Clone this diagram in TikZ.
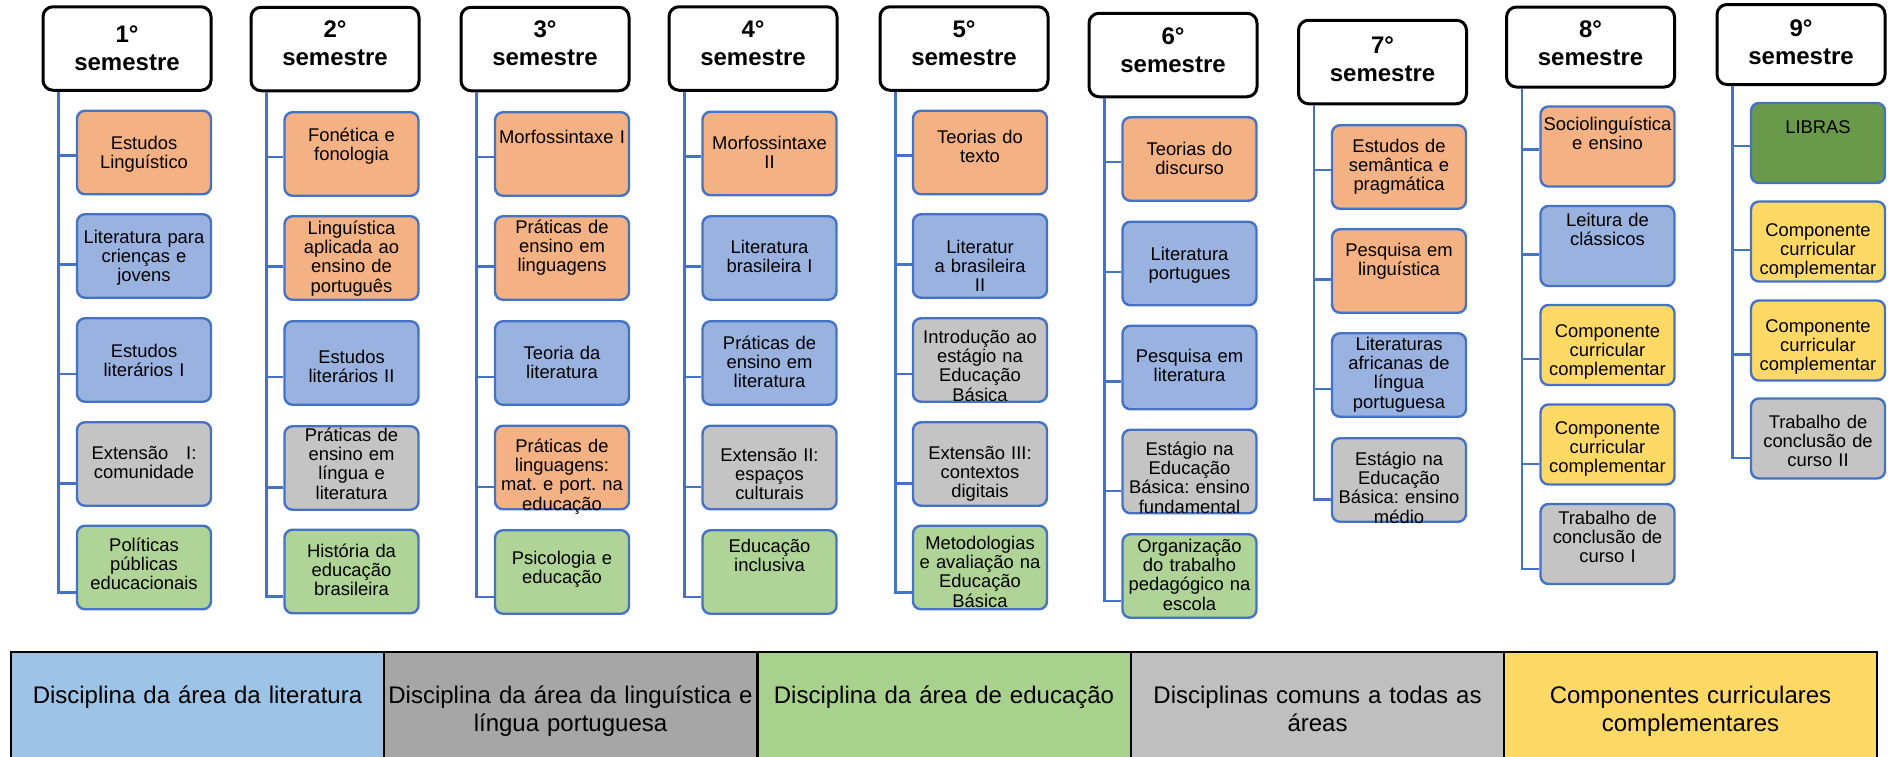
\documentclass[tikz,border=0pt]{standalone}
\usepackage{fontspec}
\setmainfont{Liberation Sans}
\usepackage{xcolor}
\usepackage{tikz}
\frenchspacing

\definecolor{linbox}{HTML}{F4B183}
\definecolor{litbox}{HTML}{9AB2E0}
\definecolor{combox}{HTML}{C4C4C4}
\definecolor{edubox}{HTML}{B0D497}
\definecolor{ccbox}{HTML}{FFD966}
\definecolor{librasbox}{HTML}{6A994B}
\definecolor{boxline}{HTML}{4472C4}
\definecolor{keylit}{HTML}{9DC3E6}
\definecolor{keylin}{HTML}{A6A6A6}
\definecolor{keyedu}{HTML}{A9D18E}
\definecolor{keycom}{HTML}{BFBFBF}
\definecolor{keycc}{HTML}{FFD966}

\begin{document}
\begin{tikzpicture}[x=0.5pt,y=-0.5pt,
    fl/.style={text height=0pt,text depth={-2*(#1)}},
    semestre/.style={draw=black,line width=1.5pt,rounded corners=5pt,fill=white,
      minimum width=84pt,minimum height=41.75pt,text width=84pt,inner sep=0pt,
      align=center,font=\bfseries\fontsize{12}{14}\selectfont},
    disc/.style={draw=boxline,line width=1.2pt,rounded corners=4pt,
      minimum width=67pt,minimum height=41.75pt,text width=67pt,inner sep=0pt,
      align=center,font=\fontsize{9.2}{9.7}\selectfont},
    short/.style={minimum height=40pt},
    lin/.style={disc,fill=linbox},
    lit/.style={disc,fill=litbox},
    com/.style={disc,fill=combox},
    edu/.style={disc,fill=edubox},
    cc/.style={disc,fill=ccbox},
    libras/.style={disc,fill=librasbox},
    spine/.style={draw=boxline,line width=1.3pt},
    key/.style={draw=black,line width=1pt,minimum width=186.5pt,minimum height=54pt,
      text width=186.5pt,inner sep=0pt,align=center,fl=-1.5pt,
      font=\fontsize{12}{14}\selectfont}]
  \useasboundingbox (0,0) rectangle (1893,756);

  % semestres
  \node[semestre,fl=-2.9pt]  (h1) at (127,48.5)    {1°\\semestre};
  \node[semestre,fl=-5.85pt] (h2) at (335,49)      {2°\\semestre};
  \node[semestre,fl=-5.85pt] (h3) at (545,49)      {3°\\semestre};
  \node[semestre,fl=-5.6pt]  (h4) at (753,48.5)    {4°\\semestre};
  \node[semestre,fl=-5.6pt]  (h5) at (964,48.5)    {5°\\semestre};
  \node[semestre,fl=-5.5pt]  (h6) at (1173,55)     {6°\\semestre};
  \node[semestre,fl=-4.35pt] (h7) at (1382.5,62)   {7°\\semestre};
  \node[semestre,short,fl=-4.85pt] (h8) at (1590.5,47) {8°\\semestre};
  \node[semestre,short,fl=-4.25pt] (h9) at (1801,44.5) {9°\\semestre};

  % 1o semestre
  \node[lin,fl=-1.75pt] (b11) at (144,152.5) {Estudos\\Linguístico};
  \node[lit,fl=-6.5pt]  (b12) at (144,256)   {Literatura para\\crienças e\\jovens};
  \node[lit,fl=-1.5pt]  (b13) at (144,360)   {Estudos\\literários I};
  \node[com,fl=-2.5pt]  (b14) at (144,464)   {Extensão\hspace{9pt}I:\\comunidade};
  \node[edu,fl=-8.25pt] (b15) at (144,567.5) {Políticas\\públicas\\educacionais};

  % 2o semestre
  \node[lin,fl=-6.5pt]  (b21) at (351.5,154)   {Fonética e\\fonologia};
  \node[lin,fl=-12pt]   (b22) at (351.5,258)   {Linguística\\aplicada ao\\ensino de\\português};
  \node[lit,fl=3pt]     (b23) at (351.5,363)   {Estudos\\literários II};
  \node[com,fl=-13.5pt] (b24) at (351.5,468)   {Práticas de\\ensino em\\língua e\\literatura};
  \node[edu,fl=-7.25pt] (b25) at (351.5,571.5) {História da\\educação\\brasileira};

  % 3o semestre
  \node[lin,fl=-5.5pt]  (b31) at (562,154)   {Morfossintaxe I};
  \node[lin,fl=-12.5pt] (b32) at (562,258)   {Práticas de\\ensino em\\linguagens};
  \node[lit,fl=-2pt]    (b33) at (562,363)   {Teoria da\\literatura};
  \node[lin,fl=-7.75pt] (b34) at (562,467.5) {Práticas de\\linguagens:\\mat. e port. na\\educação};
  \node[edu,fl=-4pt]    (b35) at (562,572)   {Psicologia e\\educação};

  % 4o semestre
  \node[lin,fl=-2.25pt] (b41) at (769.5,153.5) {Morfossintaxe\\II};
  \node[lit,fl=-2.5pt]  (b42) at (769.5,258)   {Literatura\\brasileira I};
  \node[lit,fl=-7pt]    (b43) at (769.5,363)   {Práticas de\\ensino em\\literatura};
  \node[com,fl=-3.25pt] (b44) at (769.5,467.5) {Extensão II:\\espaços\\culturais};
  \node[edu,fl=-10pt]   (b45) at (769.5,572)   {Educação\\inclusiva};

  % 5o semestre
  \node[lin,fl=-4.75pt] (b51) at (980,152.5) {Teorias do\\texto};
  \node[lit,fl=-1.5pt]  (b52) at (980,256)   {Literatur\\a brasileira\\II};
  \node[com,fl=-8.5pt]  (b53) at (980,360)   {Introdução ao\\estágio na\\Educação\\Básica};
  \node[com,fl=-2.5pt]  (b54) at (980,464)   {Extensão III:\\contextos\\digitais};
  \node[edu,fl=-9.25pt] (b55) at (980,567.5) {Metodologias\\e avaliação na\\Educação\\Básica};

  % 6o semestre
  \node[lin,fl=-2pt]    (b61) at (1189.5,159)   {Teorias do\\discurso};
  \node[lit,fl=-1.75pt] (b62) at (1189.5,263.5) {Literatura\\portugues};
  \node[lit,fl=-2.75pt] (b63) at (1189.5,367.5) {Pesquisa em\\literatura};
  \node[com,fl=-8.25pt] (b64) at (1189.5,471.5) {Estágio na\\Educação\\Básica: ensino\\fundamental};
  \node[edu,fl=-12pt]   (b65) at (1189.5,576)   {Organização\\do trabalho\\pedagógico na\\escola};

  % 7o semestre
  \node[lin,fl=-7.5pt]  (b71) at (1399,167) {Estudos de\\semântica e\\pragmática};
  \node[lin,fl=-7.5pt]  (b72) at (1399,271) {Pesquisa em\\linguística};
  \node[lit,fl=-12.5pt] (b73) at (1399,375) {Literaturas\\africanas de\\língua\\portuguesa};
  \node[com,fl=-7.5pt]  (b74) at (1399,480) {Estágio na\\Educação\\Básica: ensino\\médio};

  % 8o semestre
  \node[lin,short,fl=-8.25pt] (b81) at (1607.5,146.5) {Sociolinguística\\e ensino};
  \node[lit,short,fl=-10pt]   (b82) at (1607.5,246)   {Leitura de\\clássicos};
  \node[cc,short,fl=-4pt]     (b83) at (1607.5,345)   {Componente\\curricular\\complementar};
  \node[cc,short,fl=-5.25pt]  (b84) at (1607.5,444.5) {Componente\\curricular\\complementar};
  \node[com,short,fl=-10pt]   (b85) at (1607.5,544)   {Trabalho de\\conclusão de\\curso I};

  % 9o semestre
  \node[libras,short,fl=-5pt] (b91) at (1818,143)    {LIBRAS};
  \node[cc,short,fl=-2.75pt]  (b92) at (1818,241.5)  {Componente\\curricular\\complementar};
  \node[cc,short,fl=-4.25pt]  (b93) at (1818,340.5)  {Componente\\curricular\\complementar};
  \node[com,short,fl=-5.25pt] (b94) at (1818,438.5)  {Trabalho de\\conclusão de\\curso II};

  % ligacoes
  \foreach \c/\n in {1/5,2/5,3/5,4/5,5/5,6/5,7/4,8/5,9/4}
    \foreach \i in {1,...,\n}{
      \pgfmathsetmacro\off{1.5+2.75*(\i-1)}
      \draw[spine] ([xshift=8.5pt]h\c.south west) |- ([yshift=-\off pt]b\c\i.west);
    }

  % legenda
  \node[key,fill=keylit] (k1) at (197.5,706)  {Disciplina da área da literatura};
  \node[key,fill=keylin] (k2) at (570.5,706)  {Disciplina da área da linguística e\\língua portuguesa};
  \node[key,fill=keyedu] (k3) at (944,706)    {Disciplina da área de educação};
  \node[key,fill=keycom] (k4) at (1317.5,706) {Disciplinas comuns a todas as\\áreas};
  \node[key,fill=keycc]  (k5) at (1690.5,706) {Componentes curriculares\\complementares};
\end{tikzpicture}
\end{document}
